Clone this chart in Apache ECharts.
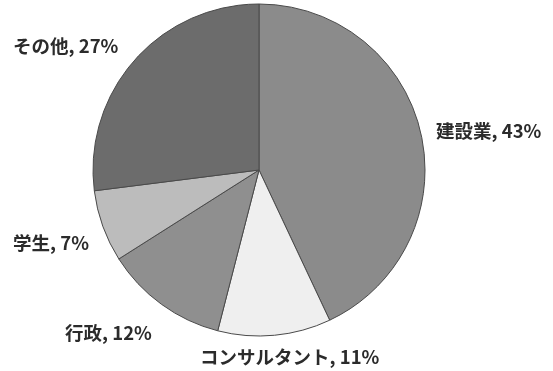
<!DOCTYPE html>
<html>
<head>
<meta charset="utf-8">
<script src="https://cdn.jsdelivr.net/npm/echarts@6/dist/echarts.min.js"></script>
<style>
  html, body { margin: 0; padding: 0; background: #fff; }
  #chart { width: 553px; height: 371px; }
</style>
</head>
<body>
<div id="chart"></div>
<script>
var myChart = echarts.init(document.getElementById('chart'));

// 職種の内訳（%）
var categories = ['建設業', 'コンサルタント', '行政', '学生', 'その他'];
var values = [43, 11, 12, 7, 27];
var colors = ['#8b8b8b', '#efefef', '#8f8f8f', '#bcbcbc', '#6c6c6c'];

var pieData = categories.map(function (name, i) {
    return { name: name, value: values[i], itemStyle: { color: colors[i] } };
});

// ラベルの位置（左端x, 中心y）
var labelPos = [[436, 131], [200, 357], [65, 333], [13, 243], [13, 46]];

var option = {
    backgroundColor: '#ffffff',
    animation: false,
    series: [
        {
            type: 'pie',
            center: [259, 170],
            radius: 166,
            startAngle: 90,
            clockwise: true,
            data: pieData,
            itemStyle: {
                borderColor: '#4a4a4a',
                borderWidth: 1
            },
            label: {
                show: true,
                position: 'outside',
                formatter: '{b}, {c}%',
                color: '#2b2b2b',
                fontFamily: 'Noto Sans CJK JP',
                fontWeight: 'bold',
                fontSize: 18.5,
                overflow: 'none'
            },
            labelLine: { show: false },
            labelLayout: function (params) {
                var p = labelPos[params.dataIndex];
                return { x: p[0], y: p[1], align: 'left', verticalAlign: 'middle', hideOverlap: false };
            },
            emphasis: { disabled: true }
        }
    ]
};

myChart.setOption(option);
</script>
</body>
</html>
